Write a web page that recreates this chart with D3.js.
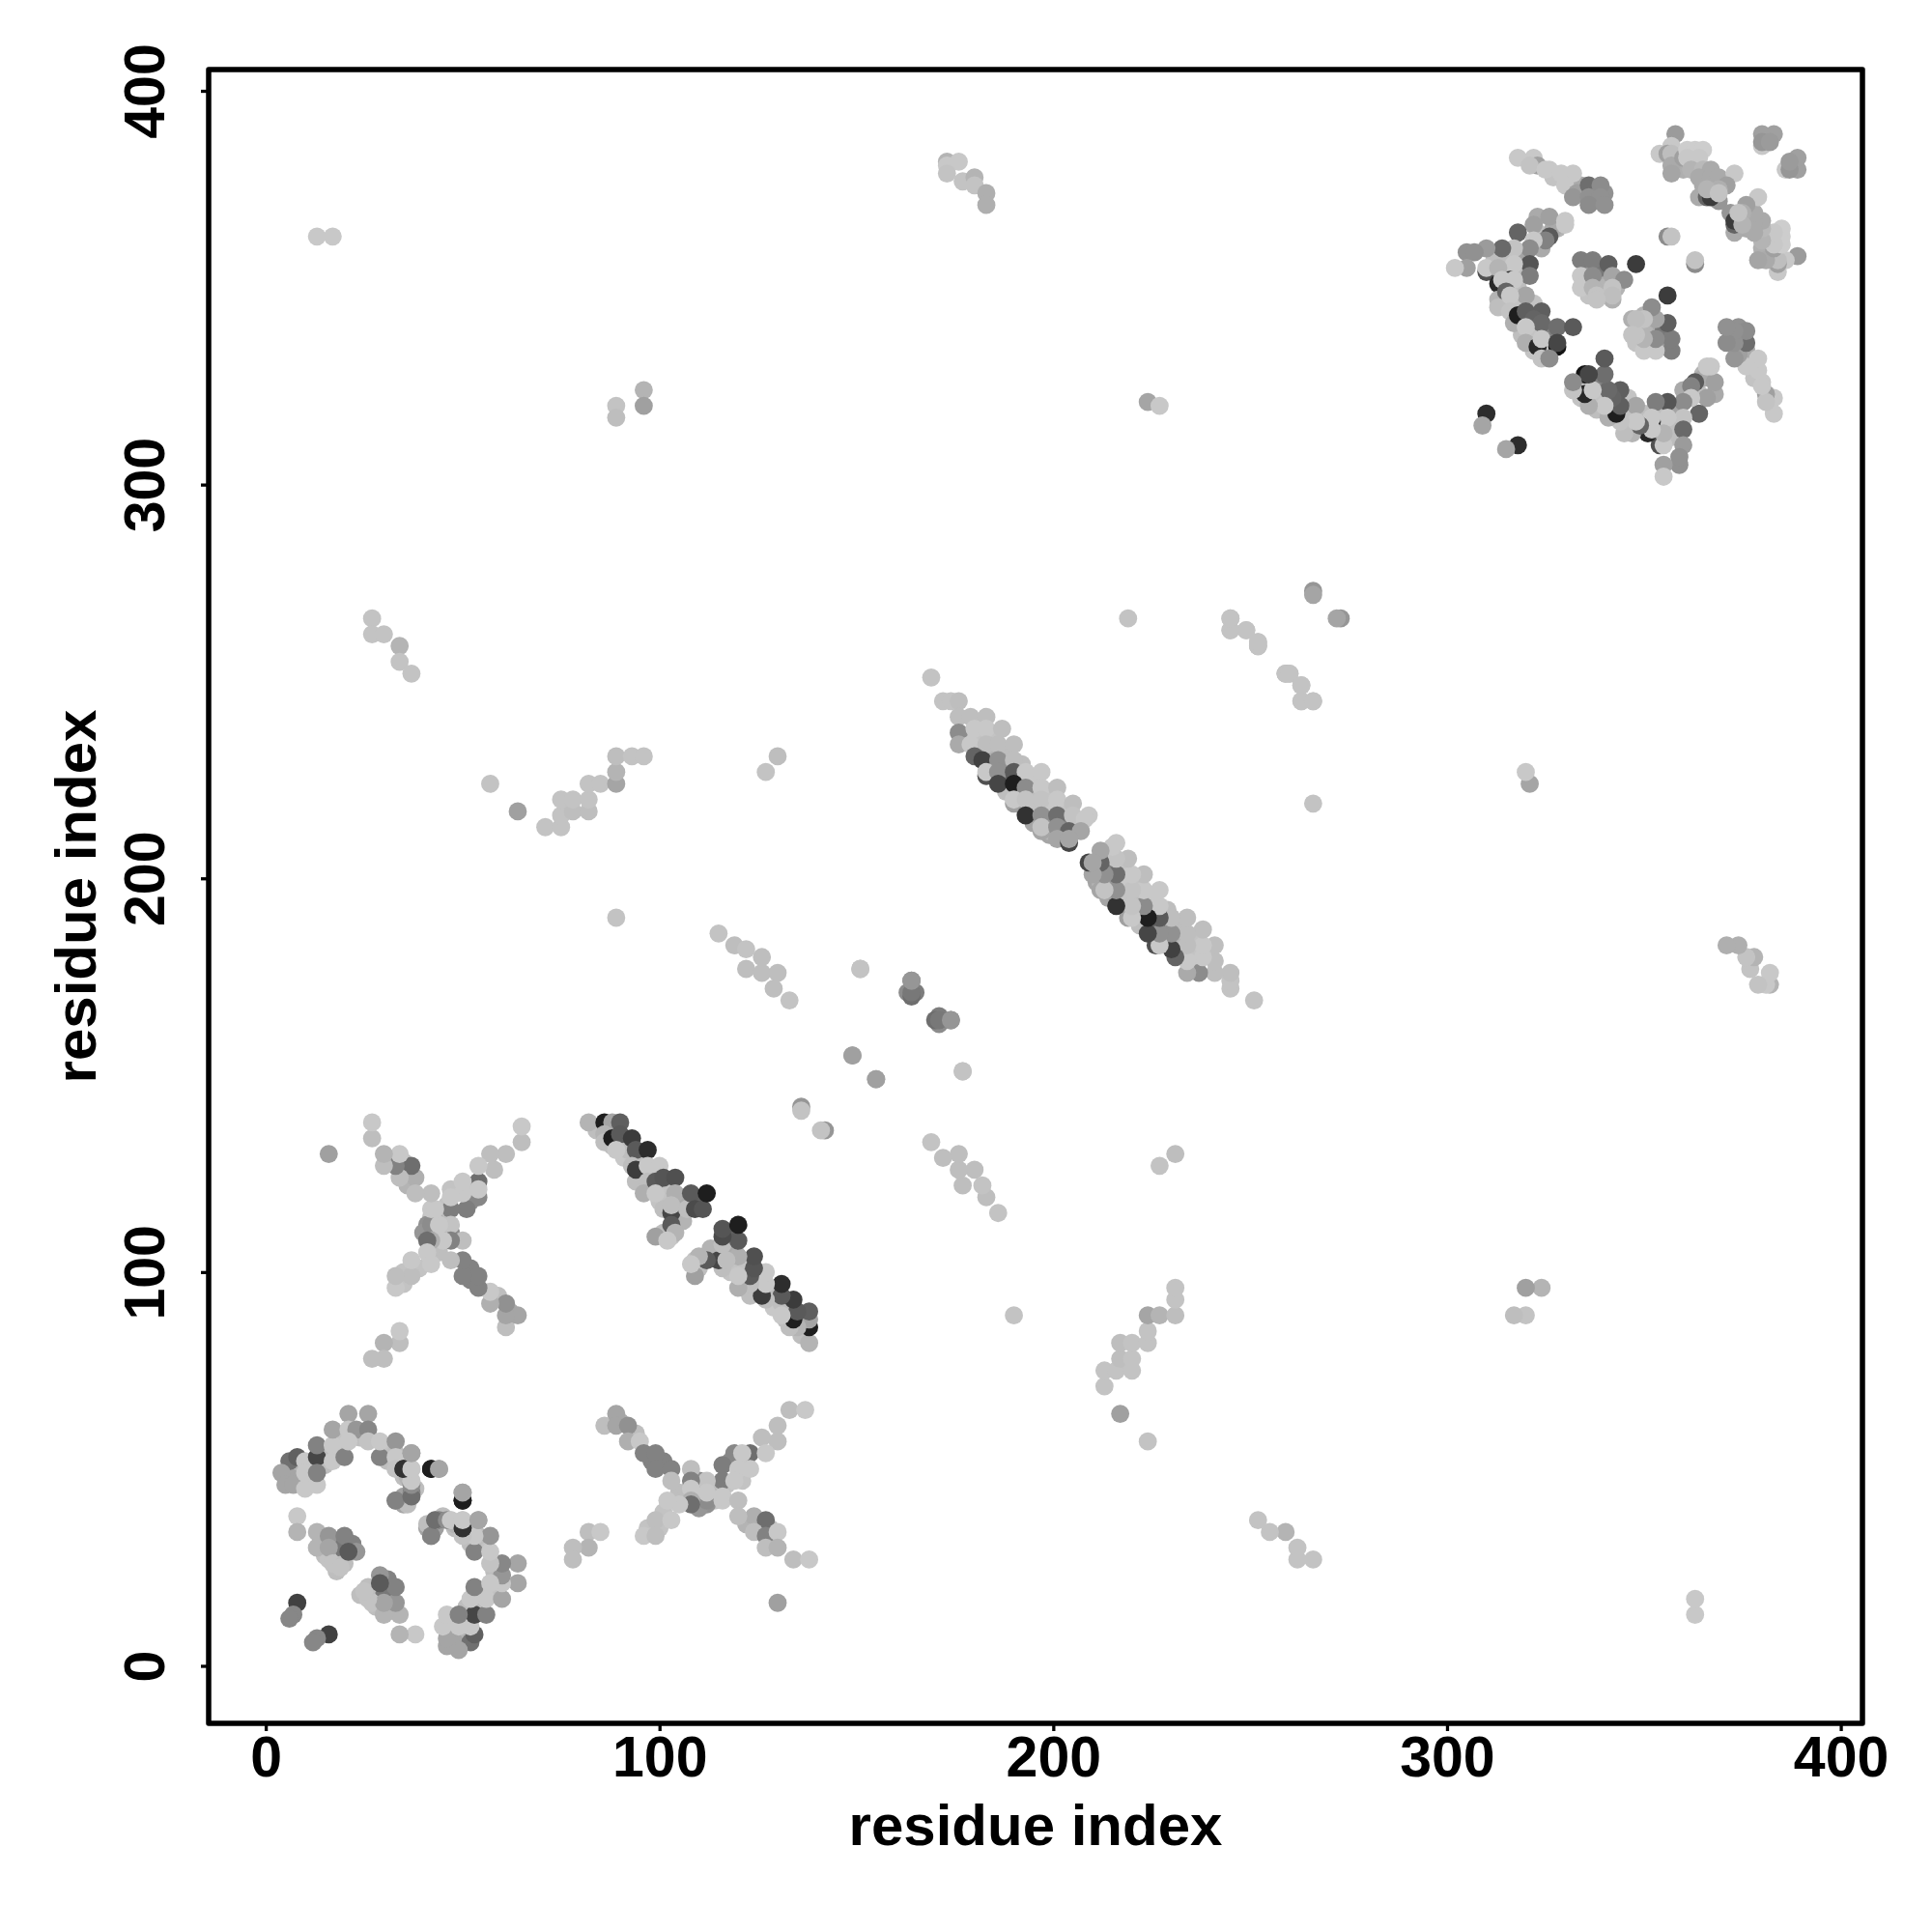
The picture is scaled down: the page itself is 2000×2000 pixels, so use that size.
<!DOCTYPE html>
<html><head><meta charset="utf-8">
<script src="https://cdn.jsdelivr.net/npm/d3@7/dist/d3.min.js"></script>
<style>html,body{margin:0;padding:0;background:#fff}svg{display:block}</style>
</head><body><svg id="c" width="2000" height="2000"></svg>
<script>
// Residue contact pairs [i, j, grey level]; each pair is drawn at (i,j) and (j,i).
const ringLowUnder = [[15,54,190],[19,58,195],[24,58,190],[15,51,190],[19,55,195],[12,47,195],[8,48,190],[9,50,180],[6,48,165],[31,55,195],[31,52,190],[35,48,190],[38,45,190],[35,43,160],[44,37,190],[48,36,180],[52,34,195],[54,33,190],[18,31,170],[21,30,180],[15,28,190],[18,28,170],[14,32,170],[19,30,120],[22,31,130],[18,24,190],[16,27,195]];
const ringLow = [[6,52,112],[8,53,96],[4,49,165],[5,46,165],[7,46,165],[10,45,200],[13,46,200],[10,52,200],[10,49,200],[13,53,70],[13,49,130],[13,56,130],[17,56,200],[17,52,200],[20,53,130],[17,60,165],[21,64,165],[21,60,200],[23,60,150],[26,64,165],[26,60,135],[21,57,200],[26,57,195],[29,53,130],[29,57,200],[33,57,150],[33,53,200],[37,54,165],[33,50,195],[35,50,45],[37,50,200],[42,50,25],[44,50,165],[37,44,130],[33,42,135],[35,41,165],[37,43,190],[37,47,200],[50,42,30],[50,44,165],[41,36,190],[42,33,130],[43,37,110],[46,37,140],[47,37,200],[50,35,50],[50,37,200],[54,37,165],[8,38,200],[8,34,180],[13,34,180],[13,30,180],[16,33,150],[20,33,130],[23,29,150],[16,30,165],[17,26,195],[20,26,190],[19,25,195],[21,29,90],[8,16,65],[7,13,135],[6,12,135]];
const crossLowUnder = [[105,44,190],[110,45,190],[114,45,190],[114,42,195],[110,42,195],[117,46,195],[121,47,195],[122,52,195],[118,52,140],[106,42,190],[101,39,195],[97,35,195],[100,35,195],[122,36,180],[125,36,190],[128,32,180],[128,35,190],[112,41,145],[110,40,150],[113,43,170],[98,52,130],[101,52,130],[90,62,170],[94,59,190]];
const crossLow = [[133,65,190],[137,65,200],[130,61,190],[126,58,190],[130,57,190],[119,54,135],[123,54,110],[121,54,200],[127,54,200],[116,51,125],[120,50,200],[123,50,200],[116,47,125],[119,47,200],[110,47,140],[112,47,195],[108,50,190],[108,47,130],[108,45,200],[112,42,140],[112,44,200],[116,42,200],[116,43,200],[108,42,175],[108,41,110],[105,41,200],[102,42,200],[120,42,190],[99,37,190],[103,37,200],[96,33,200],[99,33,190],[124,38,175],[120,38,190],[127,37,110],[124,34,190],[127,33,130],[130,34,200],[127,30,190],[130,30,180],[134,27,190],[138,27,200],[86,61,190],[89,64,165],[89,61,165],[92,61,145],[92,57,175],[95,57,200],[96,54,130],[99,54,130],[99,50,130],[103,50,130],[103,47,190],[82,34,190],[85,34,200],[82,30,180],[78,30,190],[78,27,190],[130,16,160]];
const stripeLowUnder = [[84,136,190],[87,136,170],[88,132,190],[91,132,170],[91,129,200],[92,131,190],[95,129,190],[95,125,190],[98,125,195],[94,123,190],[97,121,190],[101,121,195],[100,118,195],[105,118,190],[102,119,195],[101,116,190],[105,116,190],[106,113,180],[107,118,100],[110,118,95],[106,119,170],[103,109,195],[101,110,190]];
const stripeLow = [[82,138,180],[86,138,30],[88,138,165],[90,138,95],[86,135,180],[86,133,190],[88,134,30],[90,135,90],[93,134,60],[89,131,200],[94,131,90],[97,131,45],[93,127,190],[94,126,60],[97,127,200],[100,127,200],[97,123,190],[96,120,175],[99,123,90],[101,124,85],[104,124,80],[99,120,200],[104,120,175],[103,115,70],[103,117,190],[107,116,190],[108,120,90],[109,116,75],[111,116,85],[112,120,30],[103,112,90],[104,110,180],[99,109,160],[102,108,200]];
const ringHighUnder = [[312,357,190],[315,358,190],[319,358,165],[312,354,185],[316,354,200],[319,354,190],[314,349,195],[318,350,190],[318,346,195],[322,346,195],[319,338,190],[322,338,195],[326,338,130],[326,335,195],[322,334,195],[323,364,190],[328,365,180],[324,360,170],[327,365,170],[323,368,170],[326,380,200],[331,378,195],[327,378,195],[334,376,170],[338,375,150],[337,372,150],[340,374,145],[336,355,150],[339,352,170],[335,351,195],[340,350,180],[343,350,180],[336,348,195],[339,355,120]];
const ringHighStrand = [[318,383,200],[322,383,200],[323,381,160],[321,381,195],[325,380,200],[329,379,200],[332,379,200],[330,376,200],[333,374,160],[332,373,150],[336,376,110],[339,376,140],[336,373,145],[339,373,145],[336,371,140],[340,371,145]];
const ringHighLobe = [[326,368,160],[322,366,160],[318,364,100],[326,363,90],[325,362,130],[322,362,200],[330,367,200],[330,366,200],[321,360,140],[321,356,85],[321,353,125],[317,360,195],[317,356,200],[316,352,50],[317,352,200],[314,360,105],[310,360,155],[305,359,145],[307,359,145],[310,354,80],[310,355,200],[305,355,160],[302,355,200],[313,355,180],[313,351,40],[314,352,200],[313,347,180],[313,345,190],[315,349,100],[320,348,165],[316,348,200],[316,344,195],[317,341,175],[318,343,30],[320,344,95],[324,344,95],[322,342,100],[324,341,105],[320,340,200],[320,336,175],[323,335,40],[324,337,200],[328,340,110],[332,340,90],[328,335,20],[328,336,70],[324,332,195],[326,332,140],[334,357,125],[337,357,125],[341,356,95],[348,356,60],[342,353,165],[345,352,140],[334,353,200],[334,350,200],[337,353,140],[337,350,180],[338,348,195],[342,350,195],[342,347,175],[342,348,190],[338,347,195]];
const clusterHighUnder = [[359,384,190],[363,382,195],[366,378,180],[368,376,170],[360,380,175],[365,376,170],[363,380,175],[369,372,150],[364,373,170]];
const clusterHigh = [[358,389,155],[354,384,200],[357,386,200],[356,384,160],[357,384,190],[357,381,170],[357,379,165],[360,383,160],[361,385,205],[363,385,205],[365,385,205],[361,383,200],[364,383,200],[362,380,180],[365,380,185],[367,380,170],[364,378,170],[367,378,170],[369,378,170],[373,379,200],[371,376,160],[369,375,175],[366,373,100],[367,373,60],[366,375,180],[369,374,195],[356,363,140],[357,363,195],[380,389,160],[383,389,160],[380,386,200],[380,387,150],[382,387,155]];
const stripeHighUnder = [[178,236,200],[181,236,195],[185,236,195],[184,232,180],[188,232,190],[187,228,150],[188,226,100],[184,228,140],[192,229,190],[195,225,200],[191,222,200],[188,222,190],[195,222,190],[199,222,195],[199,218,200],[195,218,195],[203,218,195],[195,214,165],[199,214,150],[203,214,130],[199,211,165],[206,214,190],[203,211,160],[207,214,200],[199,212,180]];
const stripeHigh = [[169,251,195],[172,245,195],[174,245,195],[176,245,190],[176,241,190],[179,241,190],[183,241,190],[176,237,140],[180,238,200],[183,238,200],[187,238,190],[176,234,170],[179,234,200],[183,234,190],[186,234,190],[190,234,190],[180,231,100],[182,230,65],[186,230,145],[190,230,190],[183,226,80],[183,227,200],[186,227,145],[190,227,90],[193,227,200],[197,227,200],[186,224,70],[190,224,30],[193,223,140],[197,223,200],[201,223,190],[190,219,160],[190,220,200],[193,220,195],[197,220,195],[201,220,200],[205,219,190],[193,216,50],[197,216,145],[201,216,110],[205,216,195],[209,216,200],[208,215,200],[197,212,165],[197,213,195],[201,213,145],[204,212,100],[207,212,165],[201,210,165],[204,209,70],[204,210,165]];
const scattered = [[13,363,200],[17,363,200],[89,320,195],[89,317,190],[96,324,180],[96,320,160],[224,321,165],[227,320,200],[27,266,195],[27,262,195],[30,262,195],[34,259,180],[34,255,195],[37,252,195],[219,266,195],[245,266,195],[245,263,195],[249,263,195],[252,260,195],[252,259,175],[259,252,195],[260,252,195],[263,249,195],[263,245,195],[266,245,195],[266,273,150],[266,272,165],[57,224,195],[64,217,160],[71,213,195],[75,213,195],[75,216,195],[78,217,190],[75,220,195],[78,220,195],[82,217,190],[82,220,195],[82,224,195],[85,224,195],[89,224,165],[89,227,180],[89,231,190],[93,231,195],[96,231,195],[127,227,195],[130,231,190],[89,190,195],[115,186,195],[119,183,190],[122,182,195],[126,180,190],[122,177,190],[126,176,190],[130,176,190],[129,172,190],[133,169,195],[151,177,195],[164,174,130],[163,171,140],[165,171,125],[170,164,110],[171,164,120],[174,164,150],[177,151,195],[149,155,160],[155,149,160],[136,142,150],[136,141,195],[173,382,180],[173,381,200],[176,382,200],[173,379,195],[177,377,195],[180,378,180],[180,376,195],[183,374,175],[183,371,175],[310,318,45],[309,315,165]];

const tickValues = [0,100,200,300,400];
const axisTitle = "residue index";
const font = '"Liberation Sans", Arial, sans-serif';

const svg = d3.select("#c");
const x = d3.scaleLinear().domain([-14.5,405.5]).range([216,1928]);
const y = d3.scaleLinear().domain([-14.6,405.4]).range([1784,72]);
const grey = d3.scaleLinear().domain([0,255]).range(["#000000","#ffffff"]);

const pairs = [ringLowUnder,ringLow,crossLowUnder,crossLow,stripeLowUnder,stripeLow,ringHighUnder,ringHighStrand,ringHighLobe,clusterHighUnder,clusterHigh,stripeHighUnder,stripeHigh,scattered].flat();
const marks = pairs.flatMap(([i,j,s]) => [{a:i,b:j,s},{a:j,b:i,s}]);

svg.append("g").selectAll("circle").data(marks).join("circle")
  .attr("cx",d=>x(d.a)).attr("cy",d=>y(d.b)).attr("r",9.4).attr("fill",d=>grey(d.s));

svg.append("rect").attr("x",216).attr("y",72).attr("width",1712).attr("height",1712)
  .attr("fill","none").attr("stroke","#000").attr("stroke-width",5.5).attr("stroke-linejoin","round");

const xAxis = svg.append("g").attr("transform","translate(0,1784)")
  .call(d3.axisBottom(x).tickValues(tickValues).tickSize(8).tickPadding(12));
const yAxis = svg.append("g").attr("transform","translate(216,0)")
  .call(d3.axisLeft(y).tickValues(tickValues).tickSize(8).tickPadding(12));
[xAxis,yAxis].forEach(g=>{
  g.select(".domain").remove();
  g.selectAll("line").attr("stroke","#000").attr("stroke-width",3.3);
  g.selectAll("text").attr("fill","#000").attr("font-family",font).attr("font-weight","bold").attr("font-size",59);
});
xAxis.selectAll("text").attr("dy",null).attr("text-anchor","middle").attr("y",55);
yAxis.selectAll("text").attr("dy",null).attr("text-anchor","middle")
  .attr("transform","translate(-46,0) rotate(-90)").attr("x",0).attr("y",0);

svg.append("text").attr("x",1072).attr("y",1910).attr("text-anchor","middle")
  .attr("font-family",font).attr("font-weight","bold").attr("font-size",60).text(axisTitle);
svg.append("text").attr("transform","translate(99,928) rotate(-90)").attr("text-anchor","middle")
  .attr("font-family",font).attr("font-weight","bold").attr("font-size",60).text(axisTitle);
</script></body></html>
